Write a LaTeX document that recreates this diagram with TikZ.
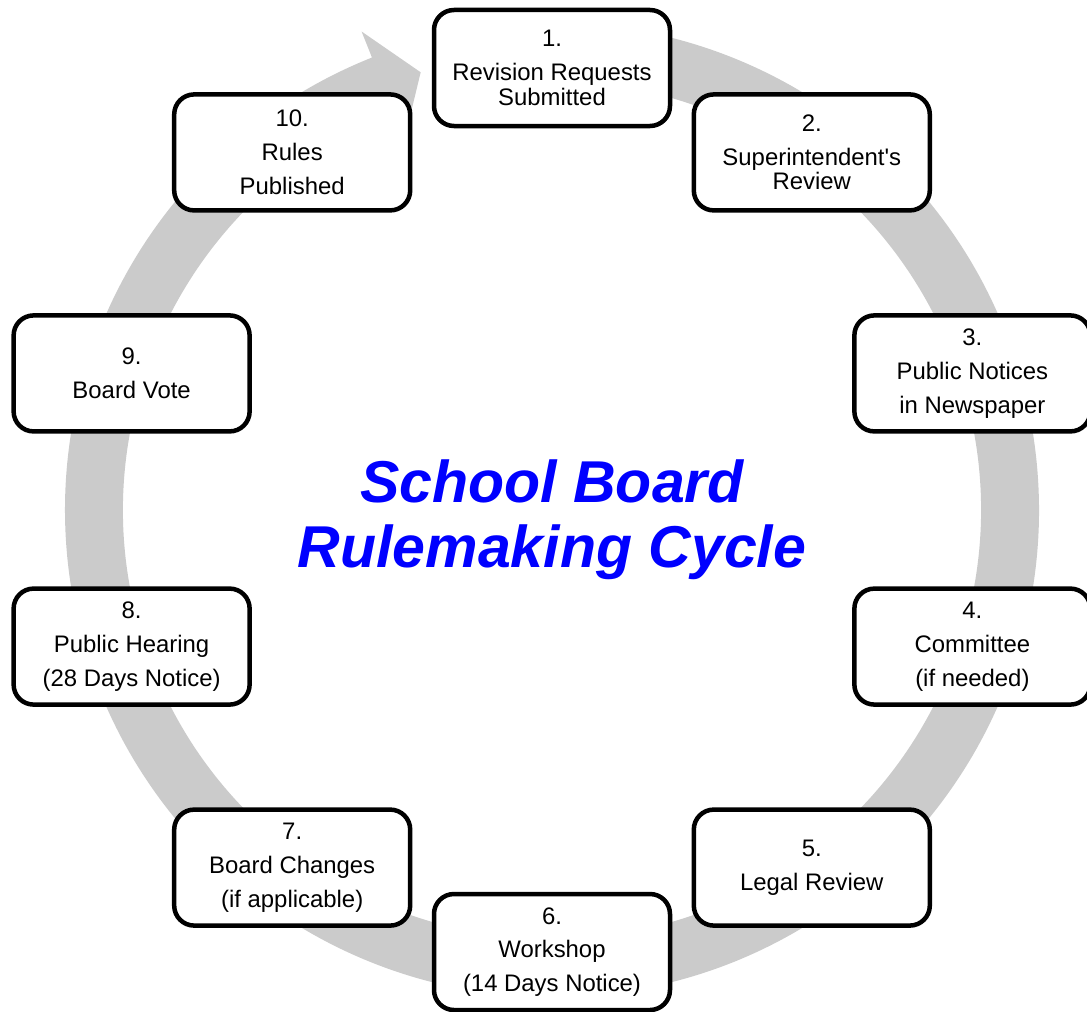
\documentclass[tikz,border=0pt]{standalone}
\usepackage{fontspec}
\setmainfont{Liberation Sans}
\usepackage{xcolor}
\usepackage{tikz}
\usetikzlibrary{positioning}
\definecolor{ringgray}{RGB}{203,203,203}
\definecolor{titleblue}{RGB}{0,0,255}
\tikzset{
  stepbox/.style={rectangle, draw=black, line width=3.2pt, fill=white,
                  rounded corners=0.5cm, minimum width=5.9cm, minimum height=2.9cm,
                  align=center, font=\fontsize{17}{24}\selectfont},
  title/.style={align=center, text=titleblue,
                font=\fontsize{42}{46}\selectfont\bfseries\itshape},
}

\begin{document}
\begin{tikzpicture}

  \useasboundingbox (-13.8,-12.525) rectangle (13.375,12.75);

  % circular arrow behind the steps
  \fill[ringgray] (95:12.175) arc[start angle=95, end angle=-248.3, radius=12.175]
    -- (111.7:12.875) -- (106.7:11.425) -- (111.7:9.975)
    -- (-248.3:10.725) arc[start angle=-248.3, end angle=95, radius=10.725] -- cycle;

  \node[stepbox] (s1)  at (90:11.05)  {1.\\Revision Requests\\[-6.4pt]Submitted};
  \node[stepbox] (s2)  at (54:11.05)  {2.\\Superintendent\textquotesingle s\\[-6.4pt]Review};
  \node[stepbox] (s3)  at (18:11.05)  {3.\\Public Notices\\in Newspaper};
  \node[stepbox] (s4)  at (-18:11.05) {4.\\Committee\\(if needed)};
  \node[stepbox] (s5)  at (-54:11.05) {5.\\Legal Review};
  \node[stepbox] (s6)  at (-90:11.05) {6.\\Workshop\\(14 Days Notice)};
  \node[stepbox] (s7)  at (-126:11.05){7.\\Board Changes\\(if applicable)};
  \node[stepbox] (s8)  at (-162:11.05){8.\\Public Hearing\\(28 Days Notice)};
  \node[stepbox] (s9)  at (162:11.05) {9.\\Board Vote};
  \node[stepbox] (s10) at (126:11.05) {10.\\Rules\\Published};

  \node[title] (cycle) at (0,-0.25) {School Board\\Rulemaking Cycle};

\end{tikzpicture}
\end{document}
